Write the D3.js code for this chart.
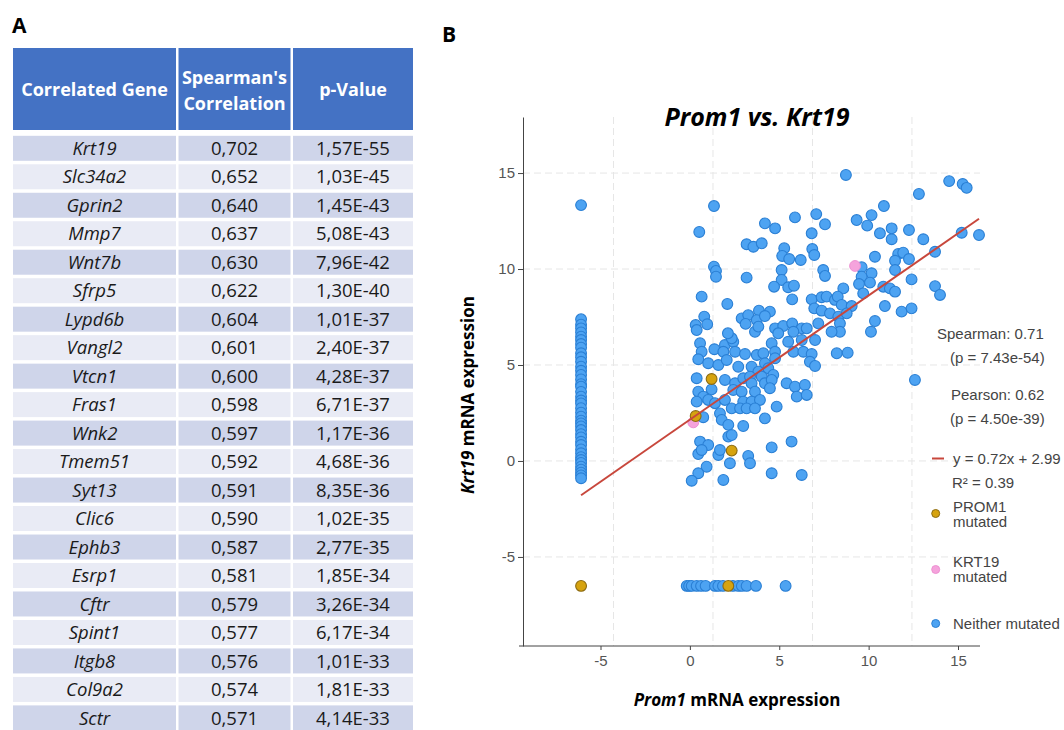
<!DOCTYPE html>
<html>
<head>
<meta charset="utf-8">
<script src="https://cdn.jsdelivr.net/npm/d3@7"></script>
<style>
  body { margin: 0; background: #fff; }
  .tbl { font-family: "Open Sans", sans-serif; }
  .plt { font-family: "Liberation Sans", Arial, sans-serif; }
</style>
</head>
<body>
<svg id="fig" width="1064" height="730"></svg>
<script>
// ---- table data (panel A)
var genes = ["Krt19", "Slc34a2", "Gprin2", "Mmp7", "Wnt7b", "Sfrp5", "Lypd6b", "Vangl2", "Vtcn1", "Fras1", "Wnk2",
  "Tmem51", "Syt13", "Clic6", "Ephb3", "Esrp1", "Cftr", "Spint1", "Itgb8", "Col9a2", "Sctr"]
var spearman = ["0,702", "0,652", "0,640", "0,637", "0,630", "0,622", "0,604", "0,601", "0,600", "0,598", "0,597",
  "0,592", "0,591", "0,590", "0,587", "0,581", "0,579", "0,577", "0,576", "0,574", "0,571"]
var pValues = ["1,57E-55", "1,03E-45", "1,45E-43", "5,08E-43", "7,96E-42", "1,30E-40", "1,01E-37", "2,40E-37", "4,28E-37",
  "6,71E-37", "1,17E-36", "4,68E-36", "8,35E-36", "1,02E-35", "2,77E-35", "1,85E-34", "3,26E-34", "6,17E-34",
  "1,01E-33", "1,81E-33", "4,14E-33"]

// ---- scatter data (panel B)
var floorX = -6.63   // Prom1 value of samples with no expression
var floorY = -6.51   // Krt19 value of samples with no expression
var columnY = [13.33, 7.38, 7.1, 6.91, 6.7, 6.48, 6.3, 6.09, 5.9, 5.61, 5.4, 5.17, 4.91, 4.7, 4.48, 4.25, 4.0, 3.87,
  3.6, 3.35, 3.15, 3.0, 2.75, 2.52, 2.31, 2.1, 1.96, 1.8, 1.61, 1.4, 1.23, 1.0, 0.83, 0.6, 0.4, 0.2, 0.05, -0.1,
  -0.3, -0.45, -0.61, -0.75, -0.9]
var rowX = [-1.32, -1.2, -1.07, -0.82, -0.6, -0.37, 0.10, 0.27, 0.5, 1.0, 1.27, 1.45, 1.69, 2.16, 3.65]
var cloud = [
  [0.05,13.28],[-0.69,11.93],[2.61,12.38],[3.12,12.12],[4.12,12.69],[5.19,12.86],[5.63,12.33],[4.96,11.86],
  [1.69,11.29],[2.03,11.16],[2.45,11.34],[3.58,11.08],[3.48,10.68],[3.83,10.52],[4.41,10.47],[4.99,11.04],[5.09,10.73],
  [0.05,10.12],[0.15,9.90],[0.15,9.60],[1.69,9.55],[3.45,9.95],[3.45,9.43],[3.07,9.08],[3.78,9.05],[4.07,9.13],[5.54,9.95],[5.63,9.64],
  [-0.57,8.56],[0.72,8.18],[3.98,8.42],[4.96,8.42],[5.46,8.53],[5.71,8.56],[6.13,8.39],[5.09,7.95],[5.46,7.83],[5.88,7.69],[6.30,7.52],
  [-0.44,7.52],[-0.87,7.08],[-0.29,7.12],[1.44,7.43],[1.77,7.60],[2.31,7.83],[2.86,7.78],[1.64,7.14],[2.20,7.34],[2.61,7.55],
  [3.12,6.91],[3.53,7.03],[3.98,7.17],[4.46,6.91],[4.71,6.91],[5.29,7.17],[2.11,6.73],[2.28,7.00],
  [6.68,14.90],[11.87,14.58],[12.55,14.43],[12.75,14.23],[10.35,13.91],[8.59,13.28],[7.22,12.55],[7.97,12.81],[7.75,12.26],
  [8.39,11.86],[8.98,12.12],[8.98,11.55],[9.85,12.03],[10.57,11.55],[12.50,11.89],[13.37,11.77],[11.16,10.90],[8.14,10.64],
  [9.31,10.78],[9.56,10.85],[9.85,10.52],[9.15,10.43],[9.15,9.95],[7.47,10.09],[7.97,9.78],[7.47,9.60],[7.34,9.22],[7.89,9.29],
  [9.98,9.46],[8.56,9.08],[8.89,8.99],[9.15,8.82],[11.16,9.11],[11.41,8.65],[6.55,8.99],[6.27,8.56],[6.47,8.13],[6.97,8.07],
  [6.72,7.69],[7.55,8.73],[8.64,8.07],[9.48,7.78],[9.98,7.95],[8.14,7.29],[6.38,7.17],[6.38,6.73],[7.94,6.73],
  [6.22,5.61],[6.77,5.64],[10.15,4.22],
  [-0.65,6.13],[0.60,6.04],[1.02,6.21],[2.95,6.13],[3.78,6.21],[4.46,6.30],[5.13,6.30],
  [-0.57,5.69],[0.07,5.82],[0.52,5.69],[1.11,5.69],[1.61,5.57],[2.20,5.52],[2.53,5.61],[3.12,5.69],[3.12,5.35],[4.04,5.69],[4.54,5.69],[4.96,5.57],
  [-0.74,5.30],[-0.24,5.09],[0.27,5.00],[0.69,5.26],[1.27,4.91],[1.94,4.91],[2.61,5.09],[4.87,5.17],[5.13,4.95],
  [2.28,4.65],[2.78,4.83],[3.03,4.48],[2.45,4.39],[-0.82,4.31],[0.60,4.22],[1.11,4.05],[1.52,4.31],[1.86,4.39],[1.94,4.05],
  [2.61,4.05],[2.95,4.22],[3.70,4.05],[4.12,3.87],[4.62,3.96],
  [-0.07,3.73],[1.02,3.70],[1.44,3.61],[2.11,3.61],[2.86,3.79],[4.21,3.35],[4.71,3.44],
  [-0.74,3.61],[-0.49,3.35],[-0.82,3.09],[-0.24,3.18],[0.10,3.01],[0.60,3.18],[1.52,3.09],[1.94,3.09],[2.36,3.18],
  [0.94,2.74],[1.36,2.74],[1.69,2.74],[2.11,2.74],[3.20,2.83],
  [-0.49,2.28],[0.35,2.48],[0.44,2.14],[0.77,1.88],[2.61,2.22],[1.52,1.82],[0.77,1.27],[0.94,1.35],
  [-0.65,1.01],[-0.24,0.83],[-0.74,0.36],[-0.57,0.57],[0.27,0.31],[0.35,0.57],[1.77,0.26],[1.86,-0.12],[0.85,-0.12],
  [2.95,0.71],[3.95,1.01],
  [-0.32,-0.30],[-0.74,-0.64],[-1.07,-1.03],[0.52,-0.99],[2.95,-0.64],[4.46,-0.73],
  [-0.82,6.82],[0.94,6.39],[3.28,6.65],[4.04,6.73],[5.96,6.73],[0.75,6.65]
]
var prom1Mut = [[-6.63,-6.51],[0.77,-6.51],[-0.07,4.27],[-0.87,2.34],[0.94,0.54]]
var krt19Mut = [[-0.99,2.01],[7.14,10.16]]

var slope = 0.72, intercept = 2.99
var fitRange = [-6.63, 13.37]
var yTicks = [-5, 0, 5, 10, 15]
var xTickLabels = [-5, 0, 5, 10, 15]
var xGrid = [-5, 0, 5, 10]
var statLines = ["Spearman: 0.71", "(p = 7.43e-54)", "Pearson: 0.62", "(p = 4.50e-39)"]

var svg = d3.select("#fig")

// ================= Panel A : table
var tableG = svg.append("g").attr("class", "tbl")

tableG.append("text")
  .attr("x", 12).attr("y", 33)
  .style("font-size", "21px").style("font-weight", "bold")
  .text("A")

var cols = [
  {x0: 13, x1: 176},
  {x0: 178.5, x1: 290.5},
  {x0: 293, x1: 413}
]
var rowCenter = d3.scaleLinear().domain([0, 1]).range([148.3, 176.78])

// header
tableG.selectAll(".hdr")
  .data(cols)
  .enter()
  .append("rect")
  .attr("class", "hdr")
  .attr("x", d => d.x0)
  .attr("y", 48)
  .attr("width", d => d.x1 - d.x0)
  .attr("height", 82)
  .attr("fill", "#4472C4")

var hdrText = tableG.append("g")
  .style("fill", "#fff")
  .style("font-weight", "bold")
  .style("font-size", "18px")
  .attr("text-anchor", "middle")

hdrText.append("text")
  .attr("x", (cols[0].x0 + cols[0].x1) / 2).attr("y", 96)
  .text("Correlated Gene")
hdrText.append("text")
  .attr("x", (cols[1].x0 + cols[1].x1) / 2).attr("y", 84)
  .text("Spearman's")
hdrText.append("text")
  .attr("x", (cols[1].x0 + cols[1].x1) / 2).attr("y", 110)
  .text("Correlation")
hdrText.append("text")
  .attr("x", (cols[2].x0 + cols[2].x1) / 2).attr("y", 96)
  .text("p-Value")

// body rows
var rows = tableG.selectAll(".row")
  .data(genes)
  .enter()
  .append("g")
  .attr("class", "row")
  .attr("transform", (d, i) => `translate(0,${rowCenter(i)})`)

cols.forEach(function(c, ci) {
  rows.append("rect")
    .attr("x", c.x0)
    .attr("y", -12.5)
    .attr("width", c.x1 - c.x0)
    .attr("height", 25)
    .attr("fill", (d, i) => i % 2 === 0 ? "#CFD5EA" : "#E9EBF5")

  rows.append("text")
    .attr("x", (c.x0 + c.x1) / 2)
    .attr("y", 0)
    .attr("dy", "0.36em")
    .attr("text-anchor", "middle")
    .style("font-size", "18.5px")
    .style("font-style", ci === 0 ? "italic" : "normal")
    .style("fill", "#1a1a1a")
    .text((d, i) => ci === 0 ? d : (ci === 1 ? spearman[i] : pValues[i]))
})

// ================= Panel B : scatter
var plotG = svg.append("g").attr("class", "plt")

svg.append("text")
  .attr("class", "tbl")
  .attr("x", 442).attr("y", 42)
  .style("font-size", "21px").style("font-weight", "bold")
  .text("B")

var x = d3.scaleLinear().domain([-9.75, 13.42]).range([519, 980])
var y = d3.scaleLinear().domain([-9.64, 17.92]).range([646, 117])
// tick labels as placed in the exported figure
var xLab = d3.scaleLinear().domain([-5, 15]).range([600.5, 958])

// grid
plotG.append("g")
  .selectAll("line")
  .data(yTicks)
  .enter()
  .append("line")
  .attr("x1", x.range()[0] + 4).attr("x2", x.range()[1])
  .attr("y1", d => y(d)).attr("y2", d => y(d))
  .attr("stroke", "#e6e6e6")
  .attr("stroke-dasharray", "7,4")

plotG.append("g")
  .selectAll("line")
  .data(xGrid)
  .enter()
  .append("line")
  .attr("x1", d => x(d)).attr("x2", d => x(d))
  .attr("y1", y.range()[1]).attr("y2", y.range()[0])
  .attr("stroke", "#e6e6e6")
  .attr("stroke-dasharray", "7,4")

// axes
var yAxis = d3.axisLeft(y)
  .tickValues(yTicks)
  .tickSize(5)
  .tickSizeOuter(0)
  .tickPadding(3)
  .tickFormat(d => String(d))

plotG.append("g")
  .attr("transform", "translate(523,0)")
  .call(yAxis)
  .call(g => g.select(".domain").attr("stroke", "#444"))
  .call(g => g.selectAll(".tick line").attr("stroke", "#444"))
  .selectAll("text")
  .style("font-size", "15px")
  .style("fill", "#555")
  .style("font-family", "Liberation Sans, Arial, sans-serif")

var xAxis = d3.axisBottom(xLab)
  .tickValues(xTickLabels)
  .tickSize(4)
  .tickSizeOuter(0)
  .tickPadding(5)
  .tickFormat(d => String(d))

plotG.append("g")
  .attr("transform", "translate(0,646)")
  .call(xAxis)
  .call(g => g.select(".domain").remove())
  .call(g => g.selectAll(".tick line").attr("stroke", "#444"))
  .selectAll("text")
  .style("font-size", "15px")
  .style("fill", "#555")
  .style("font-family", "Liberation Sans, Arial, sans-serif")

plotG.append("line")
  .attr("x1", x.range()[0]).attr("x2", x.range()[1])
  .attr("y1", 646).attr("y2", 646)
  .attr("stroke", "#444")

// points
var neither = cloud
  .concat(columnY.map(v => [floorX, v]))
  .concat(rowX.map(v => [v, floorY]))

plotG.append("g")
  .selectAll("circle")
  .data(neither)
  .enter()
  .append("circle")
  .attr("cx", d => x(d[0]))
  .attr("cy", d => y(d[1]))
  .attr("r", 5.4)
  .attr("fill", "#4DA3F2")
  .attr("stroke", "#2A7FD4")
  .attr("stroke-width", 1.1)

plotG.append("g")
  .selectAll("circle")
  .data(krt19Mut)
  .enter()
  .append("circle")
  .attr("cx", d => x(d[0]))
  .attr("cy", d => y(d[1]))
  .attr("r", 5.4)
  .attr("fill", "#F5A3DC")
  .attr("stroke", "#EE90D2")
  .attr("stroke-width", 1)

plotG.append("g")
  .selectAll("circle")
  .data(prom1Mut)
  .enter()
  .append("circle")
  .attr("cx", d => x(d[0]))
  .attr("cy", d => y(d[1]))
  .attr("r", 5.4)
  .attr("fill", "#D6A30F")
  .attr("stroke", "#8C6B12")
  .attr("stroke-width", 1.1)

// regression line
plotG.append("path")
  .datum(fitRange)
  .attr("d", d3.line().x(d => x(d)).y(d => y(slope * d + intercept)))
  .attr("stroke", "#C8473C")
  .attr("stroke-width", 2)
  .attr("fill", "none")

// title and axis labels
svg.append("text")
  .attr("class", "tbl")
  .attr("x", 757).attr("y", 126)
  .attr("text-anchor", "middle")
  .style("font-size", "25px")
  .style("font-weight", "bold")
  .style("font-style", "italic")
  .text("Prom1 vs. Krt19")

var xTitle = svg.append("text")
  .attr("class", "tbl")
  .attr("x", 737).attr("y", 706)
  .attr("text-anchor", "middle")
  .style("font-size", "17px")
  .style("font-weight", "bold")
xTitle.append("tspan").style("font-style", "italic").text("Prom1")
xTitle.append("tspan").text(" mRNA expression")

var yTitle = svg.append("text")
  .attr("class", "tbl")
  .attr("transform", "translate(474,395) rotate(-90)")
  .attr("text-anchor", "middle")
  .style("font-size", "17px")
  .style("font-weight", "bold")
yTitle.append("tspan").style("font-style", "italic").text("Krt19")
yTitle.append("tspan").text(" mRNA expression")

// legend / stats
var leg = plotG.append("g")
  .style("font-size", "15px")
  .style("fill", "#444")

var statY = [338.5, 362.5, 399.5, 423.5]
var statX = [937, 950, 951, 950]
leg.selectAll(".stat")
  .data(statLines)
  .enter()
  .append("text")
  .attr("class", "stat")
  .attr("x", (d, i) => statX[i])
  .attr("y", (d, i) => statY[i])
  .text(d => d)

leg.append("line")
  .attr("x1", 932).attr("x2", 944)
  .attr("y1", 458.5).attr("y2", 458.5)
  .attr("stroke", "#C8473C").attr("stroke-width", 2)
leg.append("text").attr("x", 953).attr("y", 463.5).text(`y = ${slope}x + ${intercept}`)
leg.append("text").attr("x", 952).attr("y", 488).text("R² = 0.39")

var keys = [
  {fill: "#D6A30F", stroke: "#8C6B12", cy: 513.5, lines: ["PROM1", "mutated"], ty: 512},
  {fill: "#F5A3DC", stroke: "#EE90D2", cy: 569.5, lines: ["KRT19", "mutated"], ty: 567},
  {fill: "#4DA3F2", stroke: "#2A7FD4", cy: 623.5, lines: ["Neither mutated"], ty: 628.5}
]
keys.forEach(function(k) {
  leg.append("circle")
    .attr("cx", 935.7).attr("cy", k.cy).attr("r", 4)
    .attr("fill", k.fill).attr("stroke", k.stroke)
  k.lines.forEach(function(t, j) {
    leg.append("text")
      .attr("x", 953).attr("y", k.ty + j * 15)
      .text(t)
  })
})
</script>
</body>
</html>
